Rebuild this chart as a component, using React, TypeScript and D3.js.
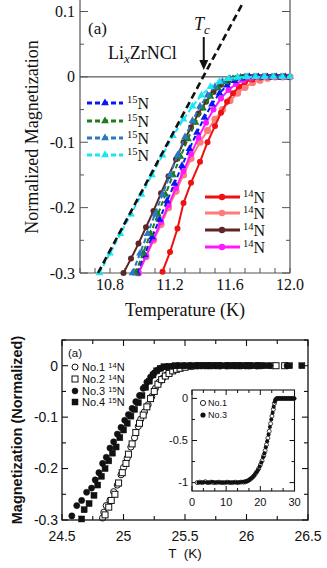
import React from 'react';
import * as d3 from 'd3';

// ---------- upper panel: LixZrNCl, normalized magnetization vs T ----------
const topXLabels = [10.8, 11.2, 11.6, 12.0];
const topYLabels = [0.1, 0, -0.1, -0.2, -0.3];

// 15N samples (dashed, triangles)
const n15Blue = [[10.98,-0.3],[11.03,-0.272],[11.08,-0.245],[11.13,-0.218],[11.18,-0.19],[11.23,-0.163],[11.28,-0.136],[11.33,-0.11],[11.38,-0.085],[11.43,-0.062],[11.48,-0.042],[11.53,-0.025],[11.58,-0.013],[11.63,-0.006],[11.68,-0.002],[11.73,0],[11.79,0],[11.85,0],[11.91,0],[11.97,0]];
const n15Green = [[10.97,-0.3],[11.02,-0.27],[11.07,-0.24],[11.12,-0.21],[11.17,-0.18],[11.22,-0.15],[11.27,-0.122],[11.32,-0.095],[11.37,-0.07],[11.42,-0.048],[11.47,-0.03],[11.52,-0.017],[11.57,-0.008],[11.62,-0.003],[11.67,-0.001],[11.72,0],[11.78,0],[11.84,0],[11.9,0],[11.96,0]];
const n15Steel = [[10.95,-0.3],[11.0,-0.27],[11.05,-0.24],[11.1,-0.21],[11.15,-0.18],[11.2,-0.15],[11.25,-0.12],[11.3,-0.092],[11.35,-0.067],[11.4,-0.045],[11.45,-0.028],[11.5,-0.015],[11.55,-0.007],[11.6,-0.003],[11.65,-0.001],[11.7,0],[11.76,0],[11.82,0],[11.88,0],[11.94,0],[12.0,0]];
const n15Cyan = [[10.73,-0.3],[10.8,-0.27],[10.87,-0.24],[10.94,-0.21],[11.01,-0.18],[11.08,-0.15],[11.15,-0.12],[11.22,-0.09],[11.29,-0.065],[11.35,-0.045],[11.41,-0.028],[11.47,-0.015],[11.53,-0.007],[11.59,-0.003],[11.65,-0.001],[11.71,0],[11.77,0],[11.83,0],[11.89,0],[11.95,0],[12.0,0]];

// 14N samples (solid, circles)
const n14Red = [[11.15,-0.298],[11.2,-0.268],[11.25,-0.232],[11.29,-0.193],[11.34,-0.162],[11.4,-0.13],[11.45,-0.1],[11.5,-0.075],[11.54,-0.055],[11.58,-0.038],[11.62,-0.025],[11.66,-0.015],[11.7,-0.008],[11.75,-0.004],[11.8,-0.001],[11.86,0],[11.92,0],[11.98,0]];
const n14Salmon = [[10.99,-0.3],[11.04,-0.275],[11.09,-0.25],[11.14,-0.226],[11.19,-0.2],[11.24,-0.175],[11.29,-0.15],[11.34,-0.125],[11.4,-0.1],[11.45,-0.082],[11.5,-0.065],[11.55,-0.05],[11.6,-0.036],[11.65,-0.025],[11.7,-0.016],[11.75,-0.009],[11.8,-0.005],[11.85,-0.002],[11.9,0],[11.95,0],[12.0,0]];
const n14Brown = [[10.89,-0.3],[10.94,-0.278],[10.99,-0.255],[11.04,-0.23],[11.09,-0.205],[11.14,-0.178],[11.19,-0.152],[11.24,-0.126],[11.29,-0.1],[11.34,-0.077],[11.39,-0.056],[11.44,-0.038],[11.49,-0.023],[11.54,-0.012],[11.59,-0.005],[11.64,-0.002],[11.69,0],[11.75,0],[11.81,0],[11.87,0],[11.93,0],[11.99,0]];
const n14Magenta = [[10.99,-0.3],[11.04,-0.274],[11.09,-0.248],[11.14,-0.222],[11.19,-0.196],[11.24,-0.17],[11.29,-0.144],[11.34,-0.118],[11.39,-0.093],[11.44,-0.07],[11.49,-0.05],[11.54,-0.033],[11.59,-0.02],[11.64,-0.011],[11.69,-0.005],[11.74,-0.002],[11.79,0],[11.85,0],[11.91,0],[11.97,0]];

// linear extrapolation used to define Tc
const tcLine = [[10.72,-0.3],[11.69,0.115]];
const tcValue = 11.425;

// ---------- lower panel: T (K) vs magnetization ----------
const botXLabels = [24.5, 25, 25.5, 26, 26.5];
const botYLabels = [0, -0.1, -0.2, -0.3];

const no1 = [[24.83,-0.296],[24.84,-0.285],[24.86,-0.272],[24.89,-0.262],[24.92,-0.245],[24.95,-0.232],[24.98,-0.212],[25.0,-0.198],[25.03,-0.18],[25.06,-0.158],[25.09,-0.14],[25.12,-0.118],[25.14,-0.104],[25.17,-0.09],[25.2,-0.076],[25.23,-0.06],[25.26,-0.044],[25.29,-0.032],[25.32,-0.024],[25.35,-0.018],[25.38,-0.013],[25.41,-0.009],[25.44,-0.006],[25.47,-0.004],[25.5,-0.002],[25.55,-0.001],[25.6,0],[25.66,0],[25.72,0],[25.78,0],[25.84,0],[25.9,0],[25.96,0],[26.02,0],[26.08,0],[26.21,0]];
const no2 = [[24.85,-0.29],[24.88,-0.275],[24.9,-0.262],[24.93,-0.25],[24.96,-0.228],[24.99,-0.208],[25.02,-0.19],[25.04,-0.172],[25.07,-0.152],[25.1,-0.13],[25.13,-0.112],[25.16,-0.096],[25.19,-0.08],[25.22,-0.064],[25.25,-0.05],[25.28,-0.036],[25.31,-0.027],[25.34,-0.02],[25.37,-0.015],[25.4,-0.01],[25.43,-0.007],[25.46,-0.005],[25.5,-0.003],[25.55,-0.001],[25.61,0],[25.69,0],[25.77,0],[25.85,0],[25.93,0],[26.01,0],[26.1,0],[26.24,0],[26.31,0]];
const no3 = [[24.58,-0.292],[24.62,-0.272],[24.66,-0.262],[24.7,-0.246],[24.74,-0.238],[24.77,-0.222],[24.8,-0.208],[24.83,-0.19],[24.86,-0.178],[24.89,-0.16],[24.92,-0.148],[24.95,-0.133],[24.98,-0.12],[25.01,-0.106],[25.04,-0.095],[25.07,-0.083],[25.1,-0.07],[25.13,-0.058],[25.16,-0.044],[25.19,-0.032],[25.22,-0.022],[25.25,-0.014],[25.28,-0.008],[25.31,-0.004],[25.35,-0.002],[25.4,-0.001],[25.44,0],[25.49,0],[25.54,0],[25.59,0],[25.64,0],[25.69,0],[25.74,0],[25.79,0],[25.84,0],[25.89,0],[25.94,0],[25.99,0],[26.04,0],[26.09,0],[26.19,0],[26.33,0]];
const no4 = [[24.66,-0.298],[24.68,-0.28],[24.72,-0.268],[24.76,-0.252],[24.79,-0.232],[24.82,-0.215],[24.85,-0.2],[24.88,-0.185],[24.91,-0.17],[24.94,-0.158],[24.97,-0.14],[25.0,-0.125],[25.03,-0.112],[25.06,-0.098],[25.09,-0.085],[25.12,-0.072],[25.15,-0.058],[25.18,-0.042],[25.21,-0.03],[25.24,-0.018],[25.27,-0.01],[25.3,-0.005],[25.33,-0.002],[25.37,-0.001],[25.42,0],[25.47,0],[25.52,0],[25.57,0],[25.62,0],[25.67,0],[25.72,0],[25.77,0],[25.82,0],[25.87,0],[25.92,0],[25.97,0],[26.02,0],[26.07,0],[26.12,0],[26.16,0],[26.35,0],[26.45,0]];

// inset: full temperature range
const insetXLabels = [0, 10, 20, 30];
const insetYLabels = [0, -0.5, -1];
const insetNo1 = [[1.5,-1.0],[2.3,-0.995],[3.1,-1.0],[3.9,-0.99],[4.7,-1.0],[5.5,-0.995],[6.3,-1.0],[7.1,-1.0],[7.9,-0.995],[8.7,-1.0],[9.5,-1.0],[10.3,-0.995],[11.1,-1.0],[11.9,-1.0],[12.7,-0.995],[13.5,-1.0],[14.3,-0.995],[15.1,-0.995],[15.6,-0.99],[16.0,-0.985],[16.5,-0.975],[17.0,-0.96],[17.5,-0.945],[18.0,-0.925],[18.5,-0.9],[19.0,-0.87],[19.5,-0.835],[20.0,-0.79],[20.5,-0.74],[21.0,-0.68],[21.4,-0.62],[21.8,-0.55],[22.2,-0.47],[22.6,-0.39],[23.0,-0.3],[23.4,-0.21],[23.8,-0.13],[24.1,-0.06],[24.4,-0.02],[24.7,-0.005],[25.0,0],[25.4,0],[25.8,0],[26.2,0],[26.6,0],[27.0,0],[27.4,0],[27.8,0],[28.2,0],[28.6,0],[29.0,0],[29.4,0],[29.8,0]];
const insetNo3 = [[1.9,-1.0],[2.7,-1.0],[3.5,-0.995],[4.3,-1.0],[5.1,-1.0],[5.9,-0.99],[6.7,-1.0],[7.5,-0.995],[8.3,-1.0],[9.1,-1.0],[9.9,-1.0],[10.7,-0.995],[11.5,-1.0],[12.3,-0.995],[13.1,-1.0],[13.9,-0.995],[14.7,-0.99],[15.4,-0.99],[15.8,-0.985],[16.3,-0.98],[16.8,-0.965],[17.3,-0.95],[17.8,-0.935],[18.3,-0.91],[18.8,-0.88],[19.3,-0.85],[19.8,-0.81],[20.3,-0.76],[20.8,-0.7],[21.2,-0.65],[21.6,-0.58],[22.0,-0.51],[22.4,-0.43],[22.8,-0.34],[23.2,-0.25],[23.6,-0.17],[23.9,-0.1],[24.25,-0.04],[24.55,-0.01],[24.85,0],[25.2,0],[25.6,0],[26.0,0],[26.4,0],[26.8,0],[27.2,0],[27.6,0],[28.0,0],[28.4,0],[28.8,0],[29.2,0],[29.6,0],[30.0,0]];

const serif = '"Liberation Serif", "DejaVu Serif", serif';
const sans = '"Liberation Sans", Arial, sans-serif';
const ink = '#111';

function TopPanel() {
  const x = d3.scaleLinear().domain([10.6, 12.0]).range([80, 290]);
  const y = d3.scaleLinear().domain([-0.3, 0.1]).range([273, 11.5]);
  const line = d3.line<number[]>().x(d => x(d[0])).y(d => y(d[1]));
  const tri = d3.symbol().type(d3.symbolTriangle).size(26)() as string;

  const n15 = [
    { data: n15Blue, color: '#0b16f2' },
    { data: n15Green, color: '#1d7d1d' },
    { data: n15Steel, color: '#2a78c2' },
    { data: n15Cyan, color: '#19e6f5' },
  ];
  const n14 = [
    { data: n14Red, color: '#ee1111', r: 3 },
    { data: n14Salmon, color: '#ff7b7b', r: 3.6 },
    { data: n14Brown, color: '#5e2626', r: 3 },
    { data: n14Magenta, color: '#ff18ff', r: 3 },
  ];
  const drawOrder14 = [n14[1], n14[0], n14[2], n14[3]];

  const xTicks = x.ticks(14);
  const yTicks = y.ticks(8);
  const isMajor = (v: number) => Math.abs(v * 10 - Math.round(v * 10)) < 1e-6;
  const frame = '#555';

  return (
    <g>
      {/* frame (top edge is outside the cropped view) */}
      <line x1={80} x2={80} y1={0} y2={273} stroke={frame} strokeWidth={1.2} />
      <line x1={290} x2={290} y1={0} y2={273} stroke={frame} strokeWidth={1.2} />
      <line x1={80} x2={290} y1={273} y2={273} stroke={frame} strokeWidth={1.2} />
      <line x1={80} x2={290} y1={y(0)} y2={y(0)} stroke="#333" strokeWidth={1} />

      {yTicks.map(v => {
        const len = isMajor(v) ? 8 : 4;
        return (
          <g key={'yt' + v}>
            <line x1={80} x2={80 + len} y1={y(v)} y2={y(v)} stroke={frame} />
            <line x1={290} x2={290 - len} y1={y(v)} y2={y(v)} stroke={frame} />
          </g>
        );
      })}
      {xTicks.map(v => (
        <line key={'xt' + v} x1={x(v)} x2={x(v)} y1={273} y2={268} stroke={frame} />
      ))}

      {topYLabels.map(v => (
        <text key={'yl' + v} x={75} y={y(v)} dy="0.35em" textAnchor="end" fontFamily={serif} fontSize={16} fill={ink}>
          {v === 0 ? '0' : d3.format('.1f')(v).replace('−', '-')}
        </text>
      ))}
      {topXLabels.map(v => (
        <text key={'xl' + v} x={x(v)} y={290} textAnchor="middle" fontFamily={serif} fontSize={16} fill={ink}>
          {d3.format('.1f')(v)}
        </text>
      ))}

      <text transform="translate(38,137) rotate(-90)" textAnchor="middle" fontFamily={serif} fontSize={18} fill={ink}>
        Normalized Magnetization
      </text>
      <text x={185} y={316} textAnchor="middle" fontFamily={serif} fontSize={18} fill={ink}>
        Temperature (K)
      </text>

      {/* 14N curves */}
      {drawOrder14.map((s, i) => (
        <g key={'s14' + i}>
          <path d={line(s.data) as string} fill="none" stroke={s.color} strokeWidth={2} />
          {s.data.map((d, j) => (
            <circle key={j} cx={x(d[0])} cy={y(d[1])} r={s.r} fill={s.color} />
          ))}
        </g>
      ))}

      {/* 15N curves */}
      {n15.map((s, i) => (
        <g key={'s15' + i}>
          <path d={line(s.data) as string} fill="none" stroke={s.color} strokeWidth={2} strokeDasharray="5,3" />
          {s.data.map((d, j) => (
            <path key={j} d={tri} transform={`translate(${x(d[0])},${y(d[1])})`} fill={s.color} />
          ))}
        </g>
      ))}

      {/* Tc extrapolation */}
      <path d={line(tcLine) as string} fill="none" stroke="#111" strokeWidth={2.6} strokeDasharray="7,4" />

      {/* annotations */}
      <text x={88} y={34} fontFamily={serif} fontSize={17} fill={ink}>(a)</text>
      <text x={108} y={59} fontFamily={serif} fontSize={18} fill={ink}>
        Li<tspan fontStyle="italic" fontSize={13} dy={4}>x</tspan><tspan dy={-4}>ZrNCl</tspan>
      </text>
      <text x={194} y={30} fontFamily={serif} fontSize={18} fontStyle="italic" fill={ink}>
        T<tspan fontSize={13} dy={4}>c</tspan>
      </text>
      <line x1={x(tcValue)} x2={x(tcValue)} y1={37} y2={62} stroke="#111" strokeWidth={2} />
      <path d={`M${x(tcValue) - 4.5},60 L${x(tcValue) + 4.5},60 L${x(tcValue)},70 Z`} fill="#111" />

      {/* legends */}
      {n15.map((s, i) => {
        const ly = [103, 121, 138, 155][i];
        return (
          <g key={'lg15' + i}>
            <line x1={87} x2={123} y1={ly} y2={ly} stroke={s.color} strokeWidth={3} strokeDasharray="5,3" />
            <path d={tri} transform={`translate(105,${ly})`} fill={s.color} />
            <text x={127} y={ly + 6} fontFamily={serif} fontSize={16} fill={ink}>
              <tspan fontSize={10.5} dy={-6}>15</tspan><tspan dy={6}>N</tspan>
            </text>
          </g>
        );
      })}
      {n14.map((s, i) => {
        const ly = [197, 213, 230, 247][i];
        return (
          <g key={'lg14' + i}>
            <line x1={205} x2={240} y1={ly} y2={ly} stroke={s.color} strokeWidth={3} />
            <circle cx={222} cy={ly} r={3.2} fill={s.color} />
            <text x={243} y={ly + 6} fontFamily={serif} fontSize={16} fill={ink}>
              <tspan fontSize={10.5} dy={-6}>14</tspan><tspan dy={6}>N</tspan>
            </text>
          </g>
        );
      })}
    </g>
  );
}

function Marker({ kind, cx, cy, s = 3 }: { kind: string; cx: number; cy: number; s?: number }) {
  const open = kind === 'oc' || kind === 'os';
  const fill = open ? '#fff' : ink;
  if (kind === 'oc' || kind === 'fc') {
    return <circle cx={cx} cy={cy} r={s} fill={fill} stroke={ink} strokeWidth={open ? 1 : 0.5} />;
  }
  return <rect x={cx - s} y={cy - s} width={2 * s} height={2 * s} fill={fill} stroke={ink} strokeWidth={open ? 1 : 0.5} />;
}

function BottomPanel() {
  const x = d3.scaleLinear().domain([24.5, 26.5]).range([62, 308]);
  const y = d3.scaleLinear().domain([-0.3, 0.05]).range([520, 340]);
  const xi = d3.scaleLinear().domain([0, 30]).range([192, 294.5]);
  const yi = d3.scaleLinear().domain([-1.1, 0.1]).range([491, 390]);

  const xTicks = d3.range(24.5, 26.501, 0.25);
  const yTicks = d3.range(-0.3, 0.051, 0.05);
  const xiTicks = d3.range(0, 30.01, 10 / 3);
  const yiTicks = d3.range(-1, 0.01, 0.25);
  const near = (a: number, b: number) => Math.abs(a - b) < 1e-6;

  const series = [
    { data: no1, kind: 'oc', label: 'No.1', iso: '14' },
    { data: no2, kind: 'os', label: 'No.2', iso: '14' },
    { data: no3, kind: 'fc', label: 'No.3', iso: '15' },
    { data: no4, kind: 'fs', label: 'No.4', iso: '15' },
  ];

  return (
    <g>
      {/* main data */}
      {series.map(s => (
        <g key={s.label}>
          {s.data.map((d, j) => (
            <Marker key={j} kind={s.kind} cx={x(d[0])} cy={y(d[1])} s={s.kind.endsWith('s') ? 3 : 3.1} />
          ))}
        </g>
      ))}

      {/* frame + ticks */}
      <rect x={62} y={340} width={246} height={180} fill="none" stroke={ink} strokeWidth={1.3} />
      {xTicks.map(v => {
        const len = near((v * 2) % 1, 0) ? 6 : 4;
        return (
          <g key={'bx' + v}>
            <line x1={x(v)} x2={x(v)} y1={520} y2={520 - len} stroke={ink} strokeWidth={1.1} />
            <line x1={x(v)} x2={x(v)} y1={340} y2={340 + len} stroke={ink} strokeWidth={1.1} />
          </g>
        );
      })}
      {yTicks.map(v => {
        const len = near(Math.round(v * 10) / 10, v) ? 6 : 4;
        return (
          <g key={'by' + v}>
            <line x1={62} x2={62 + len} y1={y(v)} y2={y(v)} stroke={ink} strokeWidth={1.1} />
            <line x1={308} x2={308 - len} y1={y(v)} y2={y(v)} stroke={ink} strokeWidth={1.1} />
          </g>
        );
      })}
      {botXLabels.map(v => (
        <text key={'bxl' + v} x={x(v)} y={541} textAnchor="middle" fontFamily={sans} fontSize={14} fill={ink}>{String(v)}</text>
      ))}
      {botYLabels.map(v => (
        <text key={'byl' + v} x={58} y={y(v)} dy="0.35em" textAnchor="end" fontFamily={sans} fontSize={14} fill={ink}>{String(v)}</text>
      ))}
      <text x={185} y={558} textAnchor="middle" fontFamily={sans} fontSize={13.5} fill={ink} xmlSpace="preserve">T  (K)</text>
      <text transform="translate(22,430) rotate(-90)" textAnchor="middle" fontFamily={sans} fontSize={14.5} fontWeight="bold" fill={ink}>
        Magnetization (Normalized)
      </text>

      {/* legend */}
      <text x={68} y={357} fontFamily={sans} fontSize={11.5} fill={ink}>(a)</text>
      {series.map((s, i) => {
        const ly = [367, 379, 391, 402][i];
        return (
          <g key={'lg' + s.label}>
            <Marker kind={s.kind} cx={75} cy={ly} s={3} />
            <text x={82} y={ly} dy="0.36em" fontFamily={sans} fontSize={11} fill={ink}>
              {s.label} <tspan fontSize={7.5} dy={-3}>{s.iso}</tspan><tspan dy={3}>N</tspan>
            </text>
          </g>
        );
      })}

      {/* inset */}
      <rect x={192} y={390} width={102.5} height={101} fill="#fff" stroke={ink} strokeWidth={1.1} />
      {xiTicks.map(v => {
        const len = near(v % 10, 0) || near(v % 10, 10) ? 5 : 3;
        return (
          <g key={'ix' + v}>
            <line x1={xi(v)} x2={xi(v)} y1={491} y2={491 - len} stroke={ink} />
            <line x1={xi(v)} x2={xi(v)} y1={390} y2={390 + len} stroke={ink} />
          </g>
        );
      })}
      {yiTicks.map(v => {
        const len = near((v * 2) % 1, 0) ? 5 : 3;
        return (
          <g key={'iy' + v}>
            <line x1={192} x2={192 + len} y1={yi(v)} y2={yi(v)} stroke={ink} />
            <line x1={294.5} x2={294.5 - len} y1={yi(v)} y2={yi(v)} stroke={ink} />
          </g>
        );
      })}
      {insetXLabels.map(v => (
        <text key={'ixl' + v} x={xi(v)} y={506} textAnchor="middle" fontFamily={sans} fontSize={11} fill={ink}>{String(v)}</text>
      ))}
      {insetYLabels.map(v => (
        <text key={'iyl' + v} x={188} y={yi(v)} dy="0.35em" textAnchor="end" fontFamily={sans} fontSize={11} fill={ink}>{String(v)}</text>
      ))}
      {insetNo1.map((d, j) => (
        <circle key={'i1' + j} cx={xi(d[0])} cy={yi(d[1])} r={2} fill="#fff" stroke={ink} strokeWidth={0.8} />
      ))}
      {insetNo3.map((d, j) => (
        <circle key={'i3' + j} cx={xi(d[0])} cy={yi(d[1])} r={2} fill={ink} />
      ))}
      <circle cx={203} cy={403} r={2.6} fill="#fff" stroke={ink} strokeWidth={0.9} />
      <text x={208} y={403} dy="0.36em" fontFamily={sans} fontSize={9} fill={ink}>No.1</text>
      <circle cx={203} cy={415} r={2.6} fill={ink} />
      <text x={208} y={415} dy="0.36em" fontFamily={sans} fontSize={9} fill={ink}>No.3</text>
    </g>
  );
}

export default function App() {
  return (
    <svg width={327} height={568} style={{ position: 'absolute', left: 0, top: 0, background: '#fff' }}>
      <rect width={327} height={568} fill="#fff" />
      <TopPanel />
      <BottomPanel />
    </svg>
  );
}
